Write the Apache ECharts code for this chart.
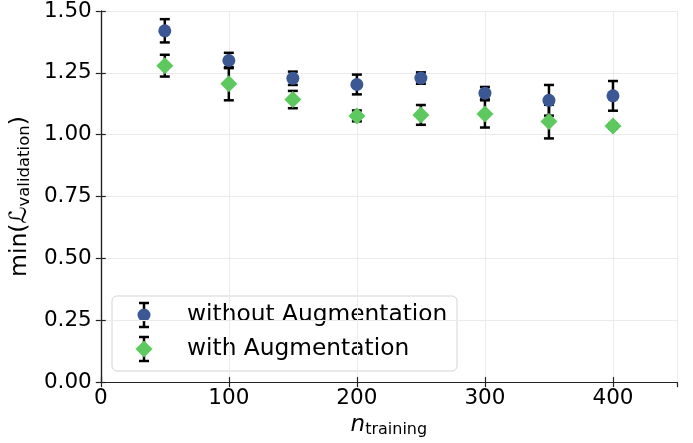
<!DOCTYPE html>
<html>
<head>
<meta charset="utf-8">
<script src="https://cdn.jsdelivr.net/npm/echarts@6/dist/echarts.min.js"></script>
<style>
  html, body { margin: 0; padding: 0; background: #fff; }
  #chart { width: 693px; height: 443px; }
</style>
</head>
<body>
<div id="chart"></div>
<script>
// Training-set sizes
const nTraining = [50, 100, 150, 200, 250, 300, 350, 400];

// Minimum validation loss, mean and spread
const withoutAugMean = [1.420, 1.300, 1.228, 1.203, 1.229, 1.168, 1.139, 1.157];
const withoutAugErr  = [0.047, 0.031, 0.027, 0.040, 0.023, 0.025, 0.062, 0.060];
const withAugMean    = [1.279, 1.206, 1.142, 1.076, 1.080, 1.084, 1.053, 1.035];
const withAugErr     = [0.044, 0.067, 0.035, 0.022, 0.040, 0.055, 0.068, 0.010];

const seriesNames = ['without Augmentation', 'with Augmentation'];
const yTicks = [0, 0.25, 0.5, 0.75, 1.0, 1.25, 1.5];
const xTicks = [0, 100, 200, 300, 400];

const FONT = 'DejaVu Sans';
const BLUE = '#3b5794';
const GREEN = '#5cc85e';
const AXIS = '#222';

function errData(means, errs) {
  return nTraining.map((x, i) => [x, means[i], means[i] - errs[i], means[i] + errs[i]]);
}
function pointData(means) {
  return nTraining.map((x, i) => [x, means[i]]);
}

const CAP = 5;
function renderErr(params, api) {
  const x = api.value(0);
  const lo = api.coord([x, api.value(2)]);
  const hi = api.coord([x, api.value(3)]);
  const st = { stroke: '#000', lineWidth: 2.5 };
  return {
    type: 'group',
    children: [
      { type: 'line', shape: { x1: lo[0], y1: lo[1], x2: hi[0], y2: hi[1] }, style: st },
      { type: 'line', shape: { x1: lo[0] - CAP, y1: lo[1], x2: lo[0] + CAP, y2: lo[1] }, style: st },
      { type: 'line', shape: { x1: hi[0] - CAP, y1: hi[1], x2: hi[0] + CAP, y2: hi[1] }, style: st }
    ]
  };
}

const chart = echarts.init(document.getElementById('chart'), null, { renderer: 'canvas' });

const tickStyle = { inside: true, length: 5, lineStyle: { color: AXIS, width: 1.2 } };
const lineStyle = { show: true, lineStyle: { color: AXIS, width: 1.2 } };

// Legend glyphs: error bar with marker
function legendBar(cx, cy, half) {
  const st = { stroke: '#000', lineWidth: 2.5 };
  return [
    { type: 'line', shape: { x1: cx, y1: cy - half, x2: cx, y2: cy + half }, style: st },
    { type: 'line', shape: { x1: cx - CAP, y1: cy - half, x2: cx + CAP, y2: cy - half }, style: st },
    { type: 'line', shape: { x1: cx - CAP, y1: cy + half, x2: cx + CAP, y2: cy + half }, style: st }
  ];
}

const option = {
  animation: false,
  backgroundColor: '#fff',
  grid: { left: 100, right: 16, top: 10, bottom: 60, containLabel: false },
  xAxis: [
    {
      type: 'value', min: 0, max: 450, interval: 100,
      axisLine: lineStyle, axisTick: tickStyle,
      axisLabel: { fontFamily: FONT, fontSize: 21.5, color: '#000', margin: 5, showMaxLabel: false,
        formatter: v => (xTicks.indexOf(v) >= 0 ? String(v) : '') },
      splitLine: { show: true, lineStyle: { color: '#ebebeb', width: 1 } },
      name: '{i|n}{s|training}',
      nameLocation: 'middle', nameGap: 29,
      nameTextStyle: {
        fontFamily: FONT, color: '#000',
        rich: {
          i: { fontFamily: FONT, fontSize: 23, fontStyle: 'italic', color: '#000' },
          s: { fontFamily: FONT, fontSize: 16, color: '#000', padding: [9, 0, 0, 0] }
        }
      }
    },
    {
      type: 'value', min: 0, max: 450, interval: 100, position: 'top',
      axisLine: lineStyle, axisTick: tickStyle, axisLabel: { show: false }, splitLine: { show: false }
    }
  ],
  yAxis: [
    {
      type: 'value', min: 0, max: 1.5, interval: 0.25,
      axisLine: lineStyle, axisTick: tickStyle,
      axisLabel: { fontFamily: FONT, fontSize: 21.5, color: '#000', margin: 9,
        formatter: v => (yTicks.some(t => Math.abs(t - v) < 1e-9) ? v.toFixed(2) : '') },
      splitLine: { show: true, lineStyle: { color: '#ebebeb', width: 1 } },
      name: '{a|min(}{l|\u2112}{s|validation}{a|)}',
      nameLocation: 'middle', nameGap: 64, nameRotate: 90,
      nameTextStyle: {
        fontFamily: FONT, color: '#000',
        rich: {
          a: { fontFamily: FONT, fontSize: 23.5, color: '#000' },
          l: { fontFamily: FONT, fontSize: 23.5, fontStyle: 'italic', color: '#000' },
          s: { fontFamily: FONT, fontSize: 16.5, color: '#000', padding: [9, 0, 0, 0] }
        }
      }
    },
    {
      type: 'value', min: 0, max: 1.5, interval: 0.25, position: 'right',
      axisLine: lineStyle, axisTick: tickStyle, axisLabel: { show: false }, splitLine: { show: false }
    }
  ],
  series: [
    {
      name: seriesNames[0] + ' error', type: 'custom', xAxisIndex: 0, yAxisIndex: 0,
      renderItem: renderErr, data: errData(withoutAugMean, withoutAugErr),
      encode: { x: 0, y: [1, 2, 3] }, z: 3
    },
    {
      name: seriesNames[0], type: 'scatter', symbol: 'circle', symbolSize: 13,
      itemStyle: { color: BLUE, opacity: 1 }, data: pointData(withoutAugMean), z: 3
    },
    {
      name: seriesNames[1] + ' error', type: 'custom', xAxisIndex: 0, yAxisIndex: 0,
      renderItem: renderErr, data: errData(withAugMean, withAugErr),
      encode: { x: 0, y: [1, 2, 3] }, z: 3
    },
    {
      name: seriesNames[1], type: 'scatter', symbol: 'diamond', symbolSize: 17,
      itemStyle: { color: GREEN, opacity: 1 }, data: pointData(withAugMean), z: 3
    }
  ],
  graphic: [
    {
      type: 'group', z: 100,
      children: [
        { type: 'rect', shape: { x: 112, y: 296, width: 345, height: 75, r: 5 },
          style: { fill: 'rgba(255,255,255,0.85)', stroke: '#d4d4d4', lineWidth: 1 } },
        ...legendBar(144, 315, 12),
        { type: 'circle', shape: { cx: 144, cy: 315, r: 6.5 }, style: { fill: BLUE } },
        ...legendBar(144, 349, 12),
        { type: 'polygon', shape: { points: [[144, 340.5], [152.5, 349], [144, 357.5], [135.5, 349]] }, style: { fill: GREEN } },
        { type: 'text', x: 187, y: 315, style: { text: seriesNames[0], font: '23.3px "DejaVu Sans"', fill: '#000', verticalAlign: 'middle' } },
        { type: 'text', x: 187, y: 349, style: { text: seriesNames[1], font: '23.3px "DejaVu Sans"', fill: '#000', verticalAlign: 'middle' } }
      ]
    }
  ]
};

chart.setOption(option);
</script>
</body>
</html>
